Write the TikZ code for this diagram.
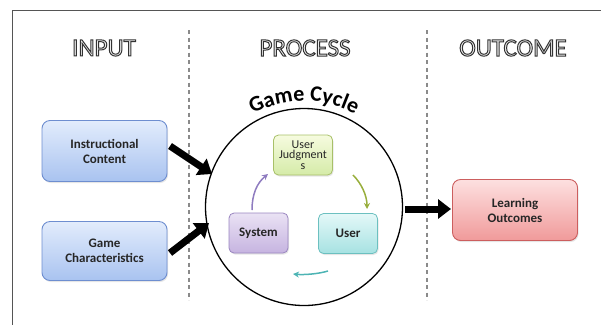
\documentclass[tikz,border=0pt]{standalone}
\usepackage{fontspec}
\setmainfont{Carlito}
\usetikzlibrary{arrows.meta,decorations.text,shadows}
\definecolor{bluetop}{HTML}{E2ECFC}
\definecolor{bluebot}{HTML}{A9C3F0}
\definecolor{blueedge}{HTML}{6E8ED0}
\definecolor{redtop}{HTML}{FDE0E0}
\definecolor{redbot}{HTML}{F09A9A}
\definecolor{rededge}{HTML}{CC5E5E}
\definecolor{greentop}{HTML}{F6FBDF}
\definecolor{greenbot}{HTML}{D5EBA8}
\definecolor{greenedge}{HTML}{A8C068}
\definecolor{purptop}{HTML}{EAE2F4}
\definecolor{purpbot}{HTML}{C6B4E0}
\definecolor{purpedge}{HTML}{9A86C0}
\definecolor{tealtop}{HTML}{E4F8F8}
\definecolor{tealbot}{HTML}{A6E2E2}
\definecolor{tealedge}{HTML}{6CC0C0}
\definecolor{purparrow}{HTML}{8F7CC0}
\definecolor{greenarrow}{HTML}{98AE3C}
\definecolor{tealarrow}{HTML}{4DB4B4}
\definecolor{framegray}{HTML}{555555}
\definecolor{dashgray}{HTML}{8A8A8A}
\newcommand{\outlinedtext}[1]{\special{pdf:literal direct 2 Tr 1.0 w 0.2 G 0.93 g}#1\special{pdf:literal direct 0 Tr 0 g 0 G}}
\tikzset{
  bigbox/.style={rounded corners=8pt, line width=0.9pt, minimum width=125pt, minimum height=61pt,
    align=center, font=\fontsize{13}{15}\selectfont\bfseries, text=black!85,
    drop shadow={opacity=0.2, shadow xshift=1pt, shadow yshift=-1.5pt}},
  smallbox/.style={rounded corners=5pt, line width=0.8pt, minimum width=59pt, minimum height=40pt,
    align=center, text=black!85,
    drop shadow={opacity=0.2, shadow xshift=1pt, shadow yshift=-1.5pt}},
  header/.style={font=\fontsize{25}{28}\selectfont},
  fatarrow/.style={line width=7pt, -{Triangle[length=13pt,width=19pt]}},
  cyclearrow/.style={line width=1.5pt, -{Stealth[length=6pt,width=6pt]}},
  sepline/.style={dashgray, line width=1.3pt, dash pattern=on 4pt off 3.5pt},
}
\begin{document}
\begin{tikzpicture}[x=1pt,y=-1pt]
\useasboundingbox (0,0) rectangle (601,325);
% frame
\draw[framegray, line width=1pt] (601,10.5) -- (12.5,10.5) -- (12.5,325);
% separators
\coordinate (s1t) at (189,30); \coordinate (s1b) at (189,300);
\coordinate (s2t) at (427,30); \coordinate (s2b) at (427,300);
\draw[sepline] (s1t) -- (s1b);
\draw[sepline] (s2t) -- (s2b);
% headers
\node[header] (hin) at (104,48) {\outlinedtext{INPUT}};
\node[header] (hpr) at (305,48) {\outlinedtext{PROCESS}};
\node[header] (hout) at (513,48) {\outlinedtext{OUTCOME}};
% input boxes
\node[bigbox, draw=blueedge, top color=bluetop, bottom color=bluebot] (ic) at (104.5,151) {Instructional\\Content};
\node[bigbox, draw=blueedge, top color=bluetop, bottom color=bluebot, minimum height=59pt] (gc) at (104.5,251) {Game\\Characteristics};
% circle
\node[circle, draw, line width=1.3pt, minimum size=197pt] (cyc) at (304,207) {};
\path[decorate, decoration={text along path, text align=center,
  text={|\fontsize{22}{24}\selectfont\bfseries|Game Cycle}}]
  (304,207) ++(-150:106) arc[start angle=-150, end angle=-30, radius=106];
% inner boxes
\node[smallbox, draw=greenedge, top color=greentop, bottom color=greenbot, font=\fontsize{12}{10.5}\selectfont] (uj) at (303,155) {User\\Judgment\\s};
\node[smallbox, draw=purpedge, top color=purptop, bottom color=purpbot, font=\fontsize{13}{15}\selectfont\bfseries] (sys) at (258.5,233) {System};
\node[smallbox, draw=tealedge, top color=tealtop, bottom color=tealbot, font=\fontsize{13}{15}\selectfont\bfseries] (usr) at (348,233.5) {User};
% output box
\node[bigbox, draw=rededge, top color=redtop, bottom color=redbot] (lo) at (515,210) {Learning\\Outcomes};
% cycle arrows
\coordinate (pa) at (252,210); \coordinate (pb) at (268,174);
\coordinate (ga) at (353,175); \coordinate (gb) at (367,209);
\coordinate (ta) at (328,271); \coordinate (tb) at (293,274);
\draw[cyclearrow, color=purparrow] (pa) .. controls (252,194) and (257,183) .. (pb);
\draw[cyclearrow, color=greenarrow] (ga) .. controls (361,183) and (367,195) .. (gb);
\draw[cyclearrow, color=tealarrow] (ta) .. controls (318,274) and (304,275) .. (tb);
% fat arrows
\coordinate (a1s) at (170,146); \coordinate (a1e) at (212,174);
\coordinate (a2s) at (170,253); \coordinate (a2e) at (209,223);
\coordinate (a3s) at (405,209); \coordinate (a3e) at (451,209);
\draw[fatarrow] (a1s) -- (a1e);
\draw[fatarrow] (a2s) -- (a2e);
\draw[fatarrow] (a3s) -- (a3e);
\end{tikzpicture}
\end{document}
